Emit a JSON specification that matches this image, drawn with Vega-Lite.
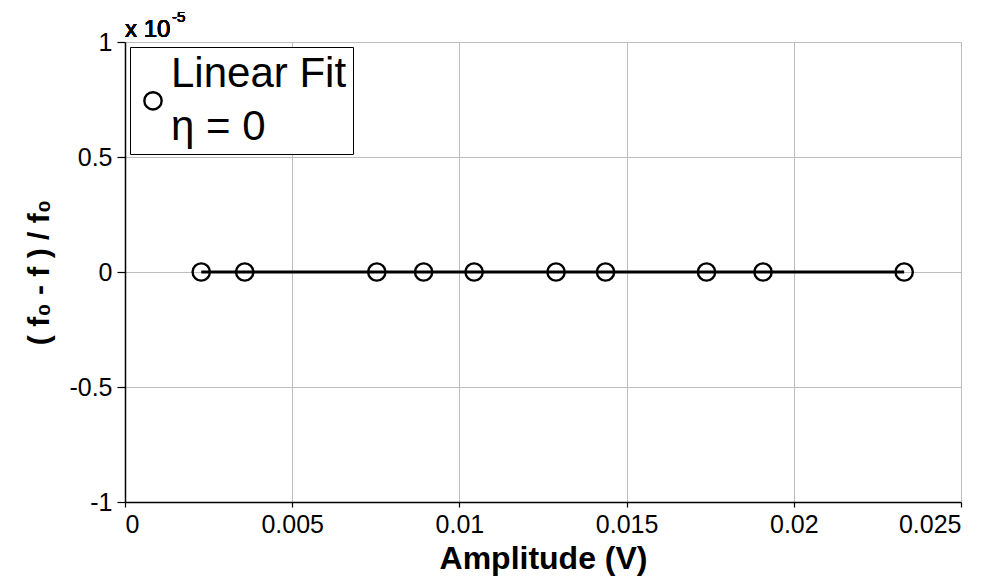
{
  "$schema": "https://vega.github.io/schema/vega-lite/v6.json",
  "autosize": "none",
  "width": 836,
  "height": 460,
  "padding": {"left": 125, "top": 42, "right": 40, "bottom": 76},
  "background": "white",
  "config": {
    "font": "Liberation Sans",
    "view": {"stroke": null},
    "style": {"guide-label": {"lineHeight": 53}},
    "axis": {
      "labelFont": "Liberation Sans",
      "titleFont": "Liberation Sans",
      "labelFontSize": 25,
      "labelColor": "black",
      "titleFontSize": 32,
      "titleFontWeight": "bold",
      "titleColor": "black",
      "domainColor": "black",
      "domainWidth": 1.5,
      "tickColor": "black",
      "tickWidth": 1.2,
      "gridColor": "#bdbdbd",
      "gridWidth": 1,
      "gridOpacity": 1
    }
  },
  "data": {
    "values": [
      {"amp": 0.00228, "df": 0, "series": "Linear Fit"},
      {"amp": 0.00358, "df": 0, "series": "Linear Fit"},
      {"amp": 0.00753, "df": 0, "series": "Linear Fit"},
      {"amp": 0.00893, "df": 0, "series": "Linear Fit"},
      {"amp": 0.01044, "df": 0, "series": "Linear Fit"},
      {"amp": 0.01289, "df": 0, "series": "Linear Fit"},
      {"amp": 0.01437, "df": 0, "series": "Linear Fit"},
      {"amp": 0.01739, "df": 0, "series": "Linear Fit"},
      {"amp": 0.01908, "df": 0, "series": "Linear Fit"},
      {"amp": 0.0233, "df": 0, "series": "Linear Fit"}
    ]
  },
  "encoding": {
    "x": {
      "field": "amp",
      "type": "quantitative",
      "scale": {"domain": [0, 0.025], "nice": false, "zero": false},
      "axis": {
        "title": "Amplitude (V)",
        "values": [0, 0.005, 0.01, 0.015, 0.02, 0.025],
        "format": "~g",
        "tickSize": 5,
        "labelPadding": 5,
        "titlePadding": 6
      }
    },
    "y": {
      "field": "df",
      "type": "quantitative",
      "scale": {"domain": [-1, 1], "nice": false, "zero": false},
      "axis": {
        "title": "( f₀ - f ) / f₀",
        "titleFontSize": 30,
        "values": [-1, -0.5, 0, 0.5, 1],
        "labelExpr": "replace(format(datum.value, '~g'), '−', '-')",
        "tickSize": 8,
        "labelPadding": 5,
        "titlePadding": 14
      }
    }
  },
  "layer": [
    {
      "mark": {"type": "line", "color": "black", "strokeWidth": 3.2}
    },
    {
      "mark": {"type": "point", "filled": false, "strokeWidth": 2.4, "size": 300, "opacity": 1},
      "encoding": {
        "color": {
          "field": "series",
          "type": "nominal",
          "scale": {"range": ["black"]},
          "legend": {
            "title": null,
            "orient": "top-left",
            "offset": 5,
            "padding": 6,
            "strokeColor": "black",
            "fillColor": "white",
            "labelFont": "Liberation Sans",
            "labelFontSize": 42,
            "labelColor": "black",
            "labelLimit": 400,
            "labelOffset": -3,
            "symbolType": "M-1,3.1A1,1,0,1,0,1,3.1A1,1,0,1,0,-1,3.1Z",
            "symbolSize": 300,
            "symbolStrokeWidth": 2.4,
            "symbolStrokeColor": "black",
            "symbolFillColor": "white",
            "symbolOpacity": 1,
            "symbolOffset": -4,
            "labelExpr": "['Linear Fit', 'η = 0']"
          }
        }
      }
    },
    {
      "mark": {"type": "text", "align": "left", "baseline": "alphabetic", "fontSize": 24, "fontWeight": "normal", "font": "Liberation Sans", "color": "black", "dy": -5, "dx": 0},
      "encoding": {
        "x": {"datum": 0},
        "y": {"datum": 1},
        "text": {"value": "x 10"}
      }
    },
    {
      "mark": {"type": "text", "align": "left", "baseline": "alphabetic", "fontSize": 15, "fontWeight": "normal", "font": "Liberation Sans", "color": "black", "dy": -20, "dx": 47},
      "encoding": {
        "x": {"datum": 0},
        "y": {"datum": 1},
        "text": {"value": "-5"}
      }
    }
  ]
}
